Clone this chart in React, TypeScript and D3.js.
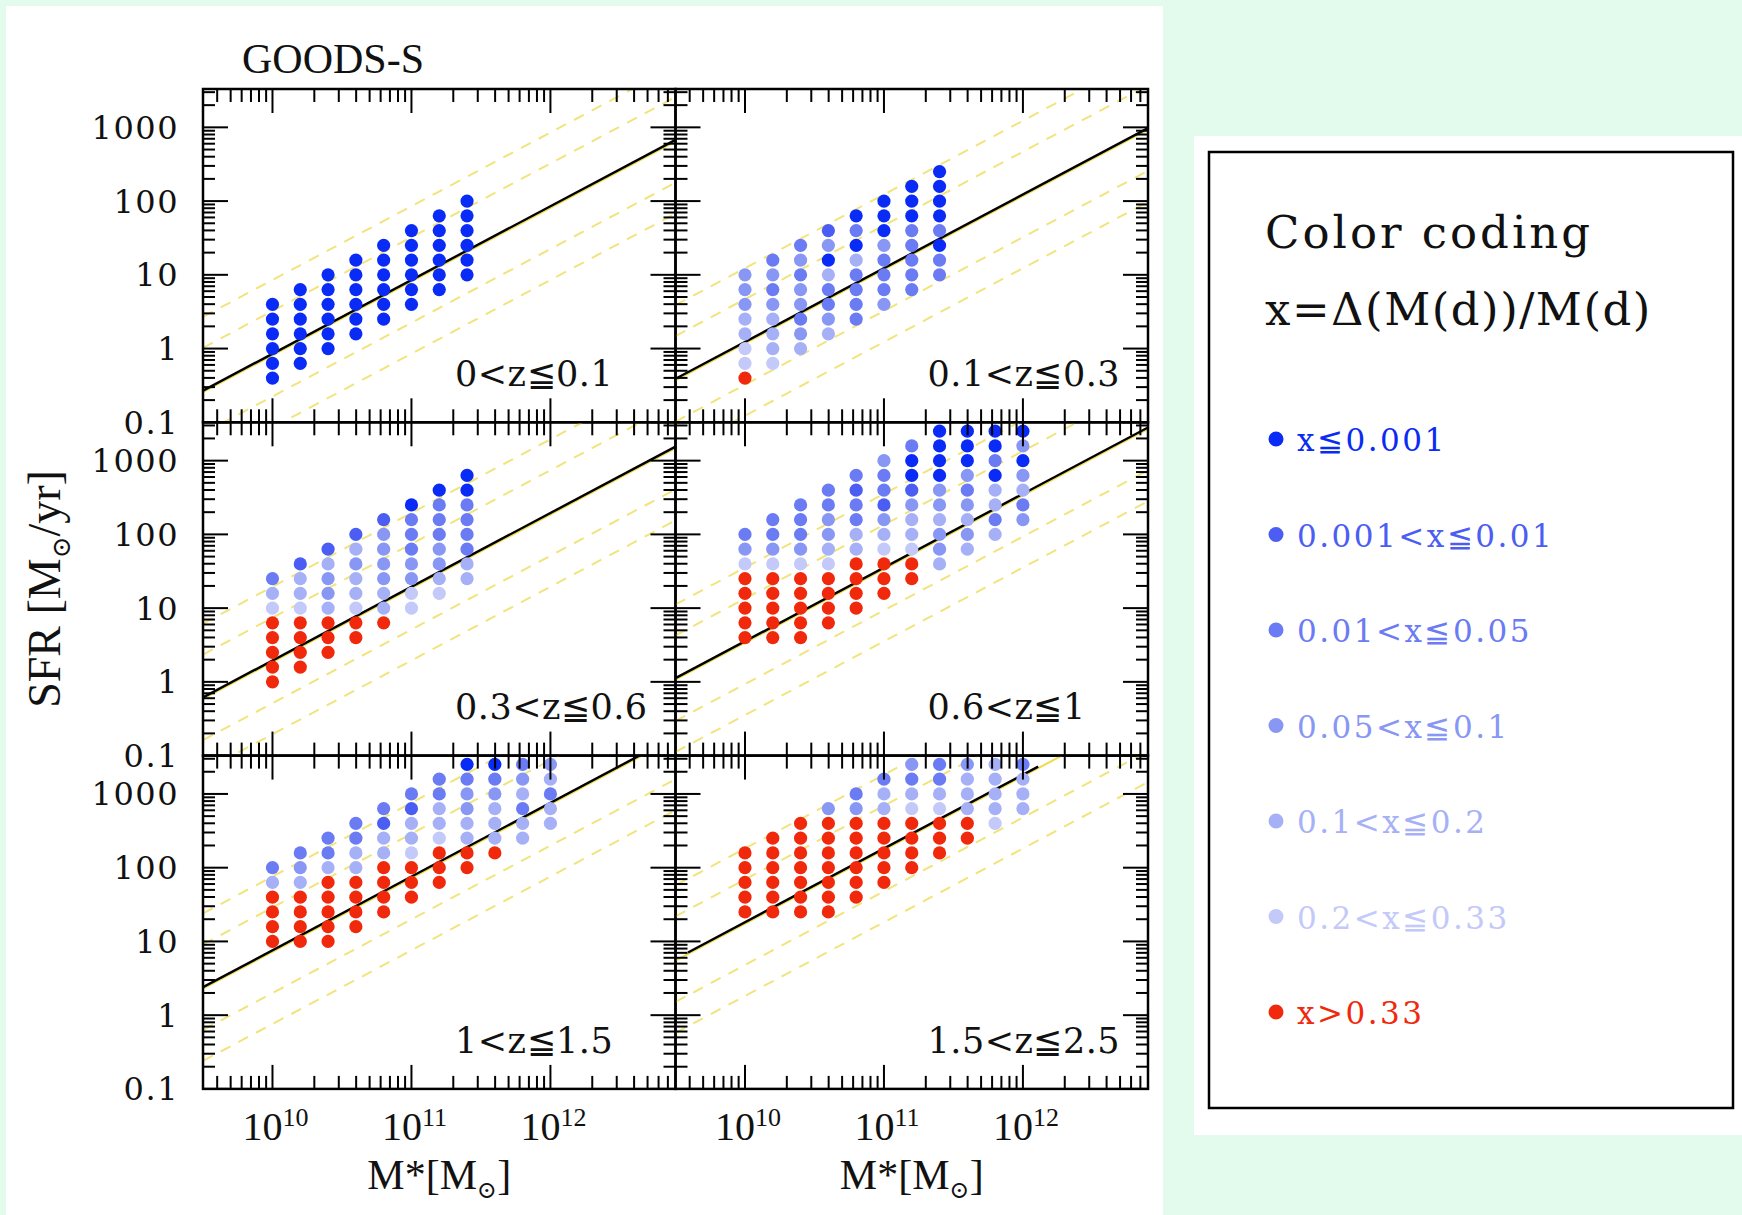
import React, { useEffect, useRef } from "react";
import * as d3 from "d3";

// colour classes, x = Δ(M(d))/M(d)
const classColors = ["#0a2bf5", "#4b5df2", "#6a7bf3", "#8896f4", "#a6b0f7", "#c3c9f9", "#f0290c"];
const legendLabels = ["x≦0.001", "0.001<x≦0.01", "0.01<x≦0.05", "0.05<x≦0.1", "0.1<x≦0.2", "0.2<x≦0.33", "x>0.33"];

const panelLabels = ["0<z≦0.1", "0.1<z≦0.3", "0.3<z≦0.6", "0.6<z≦1", "1<z≦1.5", "1.5<z≦2.5"];

// one entry per mass column: log M*, log SFR of each dot (bottom to top), colour class of each dot
const z0Cols = [
  { m: 10.0, sfr: [-0.4, -0.2, 0.0, 0.2, 0.4, 0.6], c: "000000" },
  { m: 10.2, sfr: [-0.2, 0.0, 0.2, 0.4, 0.6, 0.8], c: "000000" },
  { m: 10.4, sfr: [0.0, 0.2, 0.4, 0.6, 0.8, 1.0], c: "000000" },
  { m: 10.6, sfr: [0.2, 0.4, 0.6, 0.8, 1.0, 1.2], c: "000000" },
  { m: 10.8, sfr: [0.4, 0.6, 0.8, 1.0, 1.2, 1.4], c: "000000" },
  { m: 11.0, sfr: [0.6, 0.8, 1.0, 1.2, 1.4, 1.6], c: "000000" },
  { m: 11.2, sfr: [0.8, 1.0, 1.2, 1.4, 1.6, 1.8], c: "000000" },
  { m: 11.4, sfr: [1.0, 1.2, 1.4, 1.6, 1.8, 2.0], c: "000000" },
];

const z1Cols = [
  { m: 10.0, sfr: [-0.4, -0.2, 0.0, 0.2, 0.4, 0.6, 0.8, 1.0], c: "65544333" },
  { m: 10.2, sfr: [-0.2, 0.0, 0.2, 0.4, 0.6, 0.8, 1.0, 1.2], c: "54443232" },
  { m: 10.4, sfr: [0.0, 0.2, 0.4, 0.6, 0.8, 1.0, 1.2, 1.4], c: "43233232" },
  { m: 10.6, sfr: [0.2, 0.4, 0.6, 0.8, 1.0, 1.2, 1.4, 1.6], c: "43224031" },
  { m: 10.8, sfr: [0.4, 0.6, 0.8, 1.0, 1.2, 1.4, 1.6, 1.8], c: "22224020" },
  { m: 11.0, sfr: [0.6, 0.8, 1.0, 1.2, 1.4, 1.6, 1.8, 2.0], c: "32223000" },
  { m: 11.2, sfr: [0.8, 1.0, 1.2, 1.4, 1.6, 1.8, 2.0, 2.2], c: "22222000" },
  { m: 11.4, sfr: [1.0, 1.2, 1.4, 1.6, 1.8, 2.0, 2.2, 2.4], c: "22020000" },
];

const z2Cols = [
  { m: 10.0, sfr: [0.0, 0.2, 0.4, 0.6, 0.8, 1.0, 1.2, 1.4], c: "66666542" },
  { m: 10.2, sfr: [0.2, 0.4, 0.6, 0.8, 1.0, 1.2, 1.4, 1.6], c: "66665441" },
  { m: 10.4, sfr: [0.4, 0.6, 0.8, 1.0, 1.2, 1.4, 1.6, 1.8], c: "66643341" },
  { m: 10.6, sfr: [0.6, 0.8, 1.0, 1.2, 1.4, 1.6, 1.8, 2.0], c: "66544341" },
  { m: 10.8, sfr: [0.8, 1.0, 1.2, 1.4, 1.6, 1.8, 2.0, 2.2], c: "64433331" },
  { m: 11.0, sfr: [1.0, 1.2, 1.4, 1.6, 1.8, 2.0, 2.2, 2.4], c: "55332220" },
  { m: 11.2, sfr: [1.2, 1.4, 1.6, 1.8, 2.0, 2.2, 2.4, 2.6], c: "54332220" },
  { m: 11.4, sfr: [1.4, 1.6, 1.8, 2.0, 2.2, 2.4, 2.6, 2.8], c: "44222200" },
];

const z3Cols = [
  { m: 10.0, sfr: [0.6, 0.8, 1.0, 1.2, 1.4, 1.6, 1.8, 2.0], c: "66666532" },
  { m: 10.2, sfr: [0.6, 0.8, 1.0, 1.2, 1.4, 1.6, 1.8, 2.0, 2.2], c: "666665322" },
  { m: 10.4, sfr: [0.6, 0.8, 1.0, 1.2, 1.4, 1.6, 1.8, 2.0, 2.2, 2.4], c: "6666653222" },
  { m: 10.6, sfr: [0.8, 1.0, 1.2, 1.4, 1.6, 1.8, 2.0, 2.2, 2.4, 2.6], c: "6666543322" },
  { m: 10.8, sfr: [1.0, 1.2, 1.4, 1.6, 1.8, 2.0, 2.2, 2.4, 2.6, 2.8], c: "6666442212" },
  { m: 11.0, sfr: [1.2, 1.4, 1.6, 1.8, 2.0, 2.2, 2.4, 2.6, 2.8, 3.0], c: "6665431223" },
  { m: 11.2, sfr: [1.4, 1.6, 1.8, 2.0, 2.2, 2.4, 2.6, 2.8, 3.0, 3.2], c: "6654431002" },
  { m: 11.4, sfr: [1.6, 1.8, 2.0, 2.2, 2.4, 2.6, 2.8, 3.0, 3.2, 3.4], c: "4334330000" },
  { m: 11.6, sfr: [1.8, 2.0, 2.2, 2.4, 2.6, 2.8, 3.0, 3.2, 3.4], c: "434323000" },
  { m: 11.8, sfr: [2.0, 2.2, 2.4, 2.6, 2.8, 3.0, 3.2, 3.4], c: "42440200" },
  { m: 12.0, sfr: [2.2, 2.4, 2.6, 2.8, 3.0, 3.2, 3.4], c: "3243030" },
];

const z4Cols = [
  { m: 10.0, sfr: [1.0, 1.2, 1.4, 1.6, 1.8, 2.0], c: "666642" },
  { m: 10.2, sfr: [1.0, 1.2, 1.4, 1.6, 1.8, 2.0, 2.2], c: "6666432" },
  { m: 10.4, sfr: [1.0, 1.2, 1.4, 1.6, 1.8, 2.0, 2.2, 2.4], c: "66666422" },
  { m: 10.6, sfr: [1.2, 1.4, 1.6, 1.8, 2.0, 2.2, 2.4, 2.6], c: "66664422" },
  { m: 10.8, sfr: [1.4, 1.6, 1.8, 2.0, 2.2, 2.4, 2.6, 2.8], c: "66664412" },
  { m: 11.0, sfr: [1.6, 1.8, 2.0, 2.2, 2.4, 2.6, 2.8, 3.0], c: "66654412" },
  { m: 11.2, sfr: [1.8, 2.0, 2.2, 2.4, 2.6, 2.8, 3.0, 3.2], c: "66654422" },
  { m: 11.4, sfr: [2.0, 2.2, 2.4, 2.6, 2.8, 3.0, 3.2, 3.4], c: "66443320" },
  { m: 11.6, sfr: [2.2, 2.4, 2.6, 2.8, 3.0, 3.2, 3.4], c: "6444320" },
  { m: 11.8, sfr: [2.4, 2.6, 2.8, 3.0, 3.2, 3.4], c: "442432" },
  { m: 12.0, sfr: [2.6, 2.8, 3.0, 3.2, 3.4], c: "44243" },
];

const z5Cols = [
  { m: 10.0, sfr: [1.4, 1.6, 1.8, 2.0, 2.2], c: "66666" },
  { m: 10.2, sfr: [1.4, 1.6, 1.8, 2.0, 2.2, 2.4], c: "666666" },
  { m: 10.4, sfr: [1.4, 1.6, 1.8, 2.0, 2.2, 2.4, 2.6], c: "6666666" },
  { m: 10.6, sfr: [1.4, 1.6, 1.8, 2.0, 2.2, 2.4, 2.6, 2.8], c: "66666663" },
  { m: 10.8, sfr: [1.6, 1.8, 2.0, 2.2, 2.4, 2.6, 2.8, 3.0], c: "66666632" },
  { m: 11.0, sfr: [1.8, 2.0, 2.2, 2.4, 2.6, 2.8, 3.0, 3.2], c: "66666442" },
  { m: 11.2, sfr: [2.0, 2.2, 2.4, 2.6, 2.8, 3.0, 3.2, 3.4], c: "66665423" },
  { m: 11.4, sfr: [2.2, 2.4, 2.6, 2.8, 3.0, 3.2, 3.4], c: "6665422" },
  { m: 11.6, sfr: [2.4, 2.6, 2.8, 3.0, 3.2, 3.4], c: "664443" },
  { m: 11.8, sfr: [2.6, 2.8, 3.0, 3.2, 3.4], c: "54444" },
  { m: 12.0, sfr: [2.8, 3.0, 3.2, 3.4], c: "4442" },
];

const panelCols = [z0Cols, z1Cols, z2Cols, z3Cols, z4Cols, z5Cols];

// black main-sequence line per panel: [logM1, logSFR1, logM2, logSFR2]
const blackLines = [
  [9.5, -0.57, 12.9, 2.83],
  [9.5, -0.41, 12.9, 2.99],
  [9.5, -0.21, 12.9, 3.19],
  [9.5, 0.05, 12.9, 3.45],
  [9.5, 0.38, 12.9, 3.78],
  [9.59, 0.85, 12.11, 3.37],
];
// the yellow line under it (full width)
const yellowLines = [
  [9.5, -0.57, 12.9, 2.83],
  [9.5, -0.41, 12.9, 2.99],
  [9.5, -0.21, 12.9, 3.19],
  [9.5, 0.05, 12.9, 3.45],
  [9.5, 0.38, 12.9, 3.78],
  [9.5, 0.76, 12.9, 4.16],
];
// dashed yellow lines, offsets in dex from the main line
const dashOffsets = [-1.0, -0.58, 0.58, 1.0];

const yTickValues = [0.1, 1, 10, 100, 1000];
const yTickLabels = ["0.1", "1", "10", "100", "1000"];
const xTickValues = [1e10, 1e11, 1e12];
const xTickExps = ["10", "11", "12"];

const SERIF = "'Liberation Serif', 'DejaVu Serif', serif";
const WIDE_SERIF = "'DejaVu Serif', serif";

function App() {
  const ref = useRef<SVGSVGElement>(null);

  const left = 203,
    top = 89,
    pw = 472.5,
    ph = 333.3;

  useEffect(() => {
    const svg = d3.select(ref.current);
    svg.selectAll("*").remove();

    svg.append("rect").attr("width", 1742).attr("height", 1215).attr("fill", "#e2fbec");
    svg.append("rect").attr("x", 6).attr("y", 6).attr("width", 1157).attr("height", 1209).attr("fill", "#fff");

    const defs = svg.append("defs");

    panelCols.forEach((cols, i) => {
      const col = i % 2;
      const row = Math.floor(i / 2);
      const x0 = left + col * pw;
      const y0 = top + row * ph;

      const x = d3.scaleLog().domain([10 ** 9.5, 10 ** 12.9]).range([x0, x0 + pw]);
      const y = d3.scaleLog().domain([0.1, 10 ** 3.52]).range([y0 + ph, y0]);

      defs
        .append("clipPath")
        .attr("id", `clip-${i}`)
        .append("rect")
        .attr("x", x0)
        .attr("y", y0)
        .attr("width", pw)
        .attr("height", ph);

      const g = svg.append("g");
      const lines = g.append("g").attr("clip-path", `url(#clip-${i})`);

      const yl = yellowLines[i];
      dashOffsets.forEach((off) => {
        lines
          .append("line")
          .attr("x1", x(10 ** yl[0]))
          .attr("y1", y(10 ** (yl[1] + off)))
          .attr("x2", x(10 ** yl[2]))
          .attr("y2", y(10 ** (yl[3] + off)))
          .attr("stroke", "#f2e47c")
          .attr("stroke-width", 2)
          .attr("stroke-dasharray", "11,9");
      });
      lines
        .append("line")
        .attr("x1", x(10 ** yl[0]))
        .attr("y1", y(10 ** yl[1]) + 1.5)
        .attr("x2", x(10 ** yl[2]))
        .attr("y2", y(10 ** yl[3]) + 1.5)
        .attr("stroke", "#eedc4a")
        .attr("stroke-width", 2);
      const bl = blackLines[i];
      lines
        .append("line")
        .attr("x1", x(10 ** bl[0]))
        .attr("y1", y(10 ** bl[1]))
        .attr("x2", x(10 ** bl[2]))
        .attr("y2", y(10 ** bl[3]))
        .attr("stroke", "#000")
        .attr("stroke-width", 2.4);

      const pts: { m: number; s: number; k: number }[] = [];
      cols.forEach((c) => {
        c.sfr.forEach((s, j) => pts.push({ m: c.m, s: s, k: +c.c[j] }));
      });
      g.append("g")
        .selectAll("circle")
        .data(pts)
        .join("circle")
        .attr("cx", (d) => x(10 ** d.m))
        .attr("cy", (d) => y(10 ** d.s))
        .attr("r", 6.6)
        .attr("fill", (d) => classColors[d.k]);

      // ticks on all four sides, pointing inwards
      const tk = g.append("g").attr("stroke", "#000").attr("stroke-width", 2);
      const isMajor = (v: number) => Math.abs(Math.log10(v) - Math.round(Math.log10(v))) < 1e-6;
      x.ticks().forEach((v) => {
        const len = isMajor(v) ? 24 : 13;
        tk.append("line").attr("x1", x(v)).attr("x2", x(v)).attr("y1", y0 + ph).attr("y2", y0 + ph - len);
        tk.append("line").attr("x1", x(v)).attr("x2", x(v)).attr("y1", y0).attr("y2", y0 + len);
      });
      y.ticks().forEach((v) => {
        const len = isMajor(v) ? 25 : 12;
        tk.append("line").attr("y1", y(v)).attr("y2", y(v)).attr("x1", x0).attr("x2", x0 + len);
        tk.append("line").attr("y1", y(v)).attr("y2", y(v)).attr("x1", x0 + pw).attr("x2", x0 + pw - len);
      });

      g.append("rect")
        .attr("x", x0)
        .attr("y", y0)
        .attr("width", pw)
        .attr("height", ph)
        .attr("fill", "none")
        .attr("stroke", "#000")
        .attr("stroke-width", 2.5);

      g.append("text")
        .attr("x", x0 + 252)
        .attr("y", y0 + 297)
        .attr("font-family", WIDE_SERIF)
        .attr("font-size", 35)
        .attr("letter-spacing", 0.5)
        .attr("fill", "#111")
        .text(panelLabels[i]);

      if (col === 0) {
        yTickValues.forEach((v, j) => {
          g.append("text")
            .attr("x", x0 - 24)
            .attr("y", y(v))
            .attr("dy", "0.36em")
            .attr("text-anchor", "end")
            .attr("font-family", WIDE_SERIF)
            .attr("font-size", 32)
            .attr("letter-spacing", 1.5)
            .attr("fill", "#111")
            .text(yTickLabels[j]);
        });
      }

      if (row === 2) {
        xTickValues.forEach((v, j) => {
          const t = g
            .append("text")
            .attr("x", x(v) + 3)
            .attr("y", y0 + ph + 51)
            .attr("text-anchor", "middle")
            .attr("font-family", SERIF)
            .attr("font-size", 40)
            .attr("fill", "#111");
          t.append("tspan").text("10");
          t.append("tspan").attr("font-size", 26).attr("dy", -14).text(xTickExps[j]);
        });
        const lab = g
          .append("text")
          .attr("x", x0 + pw / 2)
          .attr("y", y0 + ph + 100)
          .attr("text-anchor", "middle")
          .attr("font-family", SERIF)
          .attr("font-size", 42)
          .attr("fill", "#111");
        lab.append("tspan").text("M*[M");
        lab.append("tspan").attr("font-size", 24).attr("dy", 9).text("⊙");
        lab.append("tspan").attr("dy", -9).text("]");
      }
    });

    svg
      .append("text")
      .attr("x", 242)
      .attr("y", 73)
      .attr("font-family", SERIF)
      .attr("font-size", 42)
      .attr("fill", "#111")
      .text("GOODS-S");

    const yl = svg
      .append("text")
      .attr("transform", `translate(60, ${top + 1.5 * ph}) rotate(-90)`)
      .attr("text-anchor", "middle")
      .attr("font-family", SERIF)
      .attr("font-size", 46)
      .attr("fill", "#111");
    yl.append("tspan").text("SFR [M");
    yl.append("tspan").attr("font-size", 26).attr("dy", 10).text("⊙");
    yl.append("tspan").attr("dy", -10).text("/yr]");

    // legend
    svg.append("rect").attr("x", 1194).attr("y", 136).attr("width", 548).attr("height", 999).attr("fill", "#fff");
    svg
      .append("rect")
      .attr("x", 1209)
      .attr("y", 152)
      .attr("width", 524)
      .attr("height", 956)
      .attr("fill", "none")
      .attr("stroke", "#000")
      .attr("stroke-width", 2.5);
    svg
      .append("text")
      .attr("x", 1265)
      .attr("y", 248)
      .attr("font-family", WIDE_SERIF)
      .attr("font-size", 45)
      .attr("letter-spacing", 3)
      .attr("fill", "#111")
      .text("Color coding");
    svg
      .append("text")
      .attr("x", 1265)
      .attr("y", 325)
      .attr("font-family", WIDE_SERIF)
      .attr("font-size", 45)
      .attr("letter-spacing", 1.5)
      .attr("fill", "#111")
      .text("x=Δ(M(d))/M(d)");

    const items = svg
      .append("g")
      .selectAll("g")
      .data(legendLabels)
      .join("g")
      .attr("transform", (d, i) => `translate(1276, ${439 + i * 95.5})`);
    items.append("circle").attr("r", 7.5).attr("fill", (d, i) => classColors[i]);
    items
      .append("text")
      .attr("x", 21)
      .attr("y", 12)
      .attr("font-family", WIDE_SERIF)
      .attr("font-size", 31)
      .attr("letter-spacing", 2.5)
      .attr("fill", (d, i) => classColors[i])
      .text((d) => d);
  }, []);

  return <svg ref={ref} width={1742} height={1215} style={{ position: "absolute", left: 0, top: 0 }} />;
}

export default App;
